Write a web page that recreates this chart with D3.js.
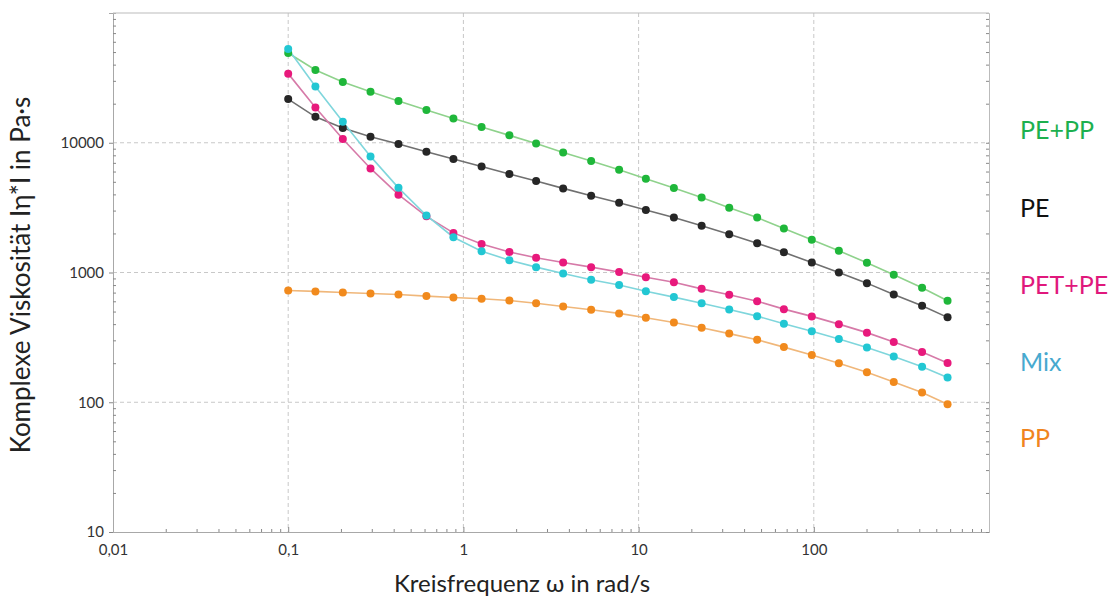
<!DOCTYPE html>
<html>
<head>
<meta charset="utf-8">
<script src="https://cdn.jsdelivr.net/npm/d3@7"></script>
<style>
  body { margin: 0; background: #fff; }
  svg { font-family: Lato, "Open Sans", sans-serif; }
</style>
</head>
<body>
<div id="chart"></div>
<script>
// Kreisfrequenz (rad/s)
var freq = [0.1, 0.143, 0.205, 0.295, 0.426, 0.615, 0.877, 1.27, 1.83, 2.6, 3.71, 5.36, 7.74,
            11, 15.9, 22.9, 32.9, 47.5, 67.5, 97.4, 139, 201, 286, 415, 580];

var pePP  = [49200, 36400, 29400, 24700, 21000, 17900, 15400, 13200, 11400, 9880, 8420, 7230, 6200,
             5280, 4480, 3780, 3160, 2650, 2180, 1790, 1470, 1190, 960, 762, 605];
var pe    = [21700, 15850, 12970, 11120, 9770, 8530, 7490, 6570, 5740, 5070, 4450, 3910, 3450,
             3030, 2650, 2290, 1970, 1680, 1430, 1194, 1000, 828, 678, 555, 451];
var petPE = [34100, 18700, 10700, 6340, 3980, 2710, 2020, 1660, 1440, 1300, 1194, 1100, 1010,
             920, 842, 748, 673, 601, 522, 459, 400, 344, 291, 244, 201];
var mix   = [52800, 27100, 14500, 7850, 4490, 2750, 1870, 1460, 1245, 1100, 982, 879, 800,
             718, 646, 580, 519, 461, 403, 352, 307, 264, 225, 188, 155];
var pp    = [727, 715, 702, 689, 677, 658, 642, 627, 609, 580, 547, 516, 484,
             448, 412, 375, 338, 303, 266, 231, 200, 170, 143, 119, 96.5];

var seriesNames = ["PE+PP", "PE", "PET+PE", "Mix", "PP"];
var seriesValues = [pePP, pe, petPE, mix, pp];

var xTicks = [0.01, 0.1, 1, 10, 100];
var yTicks = [10, 100, 1000, 10000];

var dotColor  = ["#1fb73a", "#262626", "#e8197c", "#22c7d3", "#f18a1d"];
var lineColor = ["#8fd28c", "#707070", "#d67aa8", "#7fd6dc", "#f0b77a"];
var labelColor = ["#1cb04f", "#111111", "#e0187c", "#47a9cf", "#f0841e"];
var labelY = [130, 208, 285, 362, 438];

var width = 1120, height = 600;
var mLeft = 113, mRight = 989, mTop = 13, mBottom = 532;

var svg = d3.select("#chart").append("svg")
    .attr("width", width)
    .attr("height", height);

var x = d3.scaleLog().domain([0.01, 1000]).range([mLeft, mRight]);
var y = d3.scaleLog().domain([10, 100000]).range([mBottom, mTop]);

function fmt(v) { return String(v).replace(".", ","); }

// grid
svg.append("g").selectAll("line").data(xTicks.slice(1))
  .enter().append("line")
    .attr("x1", function(d) { return x(d); }).attr("x2", function(d) { return x(d); })
    .attr("y1", mTop).attr("y2", mBottom)
    .attr("stroke", "#c8c8c8").attr("stroke-dasharray", "4,3");
svg.append("g").selectAll("line").data(yTicks.slice(1))
  .enter().append("line")
    .attr("x1", mLeft).attr("x2", mRight)
    .attr("y1", function(d) { return y(d); }).attr("y2", function(d) { return y(d); })
    .attr("stroke", "#c8c8c8").attr("stroke-dasharray", "4,3");

// minor tick values
var xMinor = [], yMinor = [];
[0.01, 0.1, 1, 10, 100].forEach(function(b) { for (var k = 2; k <= 9; k++) xMinor.push(b * k); });
[10, 100, 1000, 10000].forEach(function(b) { for (var k = 2; k <= 9; k++) yMinor.push(b * k); });

// axes
var axisColor = "#a8a8a8";
var gx = svg.append("g").attr("transform", "translate(0," + mBottom + ")")
    .call(d3.axisBottom(x).tickValues(xTicks).tickFormat(fmt).tickSize(-5).tickPadding(12));
var gy = svg.append("g").attr("transform", "translate(" + mLeft + ",0)")
    .call(d3.axisLeft(y).tickValues(yTicks).tickFormat(function(d) { return d; }).tickSize(4).tickPadding(5));
var gxm = svg.append("g").attr("transform", "translate(0," + mBottom + ")")
    .call(d3.axisBottom(x).tickValues(xMinor).tickFormat("").tickSize(-3));
var gym = svg.append("g").attr("transform", "translate(" + mLeft + ",0)")
    .call(d3.axisLeft(y).tickValues(yMinor).tickFormat("").tickSize(-3));
var gr = svg.append("g").attr("transform", "translate(" + mRight + ",0)")
    .call(d3.axisRight(y).tickValues(yMinor.concat(yTicks)).tickFormat("").tickSize(-3));

[gx, gy, gxm, gym, gr].forEach(function(g) {
  g.select(".domain").attr("stroke", axisColor);
  g.selectAll(".tick line").attr("stroke", "#888");
  g.selectAll("text").attr("fill", "#333").style("font-size", "15px")
    .style("font-family", "Lato, 'Open Sans', sans-serif");
});
gr.select(".domain").attr("stroke", "#bbb");

svg.append("line")
    .attr("x1", mLeft).attr("x2", mRight).attr("y1", mTop).attr("y2", mTop)
    .attr("stroke", "#bbb");

// series
var line = d3.line()
    .x(function(d, i) { return x(freq[i]); })
    .y(function(d) { return y(d); });

seriesValues.forEach(function(vals, s) {
  svg.append("path")
      .datum(vals)
      .attr("d", line)
      .attr("fill", "none")
      .attr("stroke", lineColor[s])
      .attr("stroke-width", 1.6);
});
seriesValues.forEach(function(vals, s) {
  svg.append("g").selectAll("circle")
      .data(vals)
      .enter().append("circle")
      .attr("cx", function(d, i) { return x(freq[i]); })
      .attr("cy", function(d) { return y(d); })
      .attr("r", 4)
      .attr("fill", dotColor[s]);
});

// labels at right
svg.append("g").selectAll("text")
    .data(seriesNames)
    .enter().append("text")
    .attr("x", 1020)
    .attr("y", function(d, i) { return labelY[i]; })
    .attr("dy", "0.35em")
    .attr("fill", function(d, i) { return labelColor[i]; })
    .style("font-size", "25px")
    .text(function(d) { return d; });

// axis titles
svg.append("text")
    .attr("x", 522).attr("y", 592)
    .attr("text-anchor", "middle")
    .attr("fill", "#222")
    .style("font-size", "24px")
    .text("Kreisfrequenz ω in rad/s");

svg.append("text")
    .attr("transform", "translate(30,275) rotate(-90)")
    .attr("text-anchor", "middle")
    .attr("fill", "#222")
    .style("font-size", "26px")
    .text("Komplexe Viskosität Iη*I in Pa·s");
</script>
</body>
</html>
